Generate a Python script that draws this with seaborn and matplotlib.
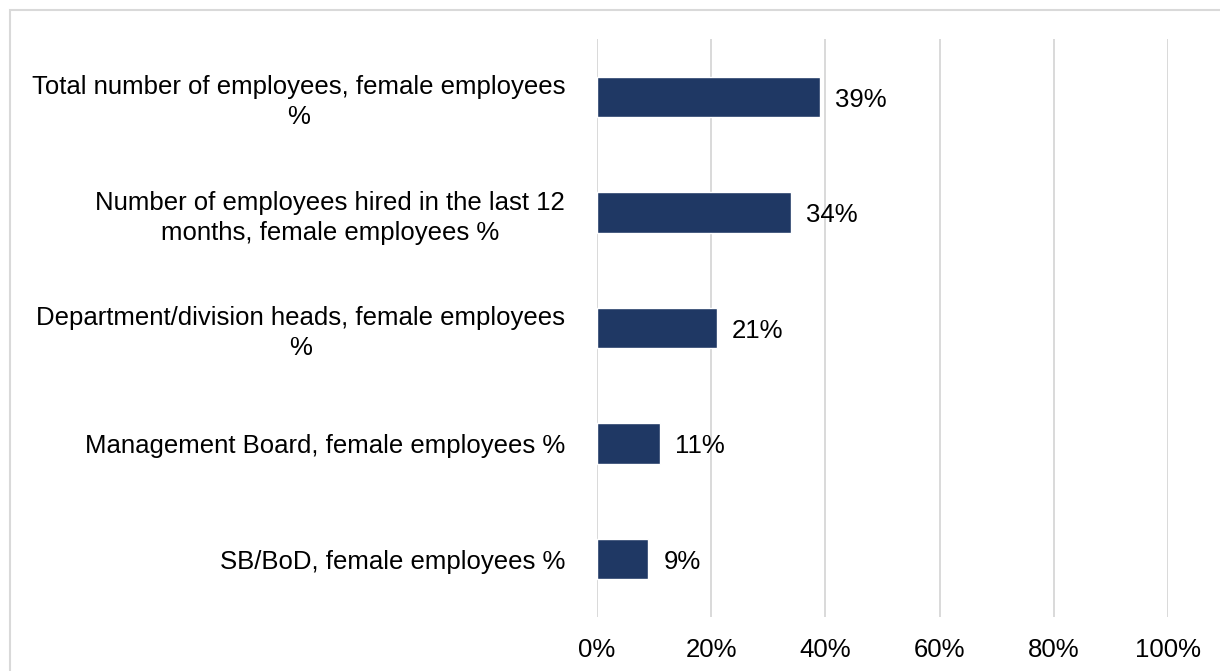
import matplotlib
matplotlib.use("Agg")
import matplotlib.pyplot as plt
from matplotlib.patches import Rectangle
import seaborn as sns
import pandas as pd

categories = [
    "Total number of employees, female employees\n%",
    "Number of employees hired in the last 12\nmonths, female employees %",
    "Department/division heads, female employees\n%",
    "Management Board, female employees %",
    "SB/BoD, female employees %",
]
female_share = [39, 34, 21, 11, 9]
x_ticks = [0, 20, 40, 60, 80, 100]
x_tick_labels = ["0%", "20%", "40%", "60%", "80%", "100%"]

bar_color = "#1F3864"
grid_color = "#d9d9d9"
font_size = 18.5

sns.set_theme(style="white")
plt.rcParams["font.family"] = ["Liberation Sans", "DejaVu Sans"]

df = pd.DataFrame({"category": categories, "value": female_share})

fig = plt.figure(figsize=(12.2, 6.71), dpi=100)
ax = fig.add_axes([597 / 1220, 1 - 617 / 671, (1168 - 597) / 1220, (617 - 39) / 671])

# outer frame of the chart area
fig.patches.append(Rectangle((10 / 1220, -0.1), 1.2, 1 - 10 / 671 + 0.1,
                             transform=fig.transFigure, fill=False,
                             edgecolor=grid_color, linewidth=1.5, zorder=0))

sns.barplot(data=df, y="category", x="value", orient="h", color=bar_color,
            saturation=1, width=0.35, ax=ax, zorder=3)

ax.set_xlim(0, 100)
ax.set_ylim(4.5, -0.5)
ax.set_xticks(x_ticks)
ax.set_xticklabels(x_tick_labels)
ax.set_xlabel("")
ax.set_ylabel("")

for v in x_ticks:
    ax.axvline(v, color=grid_color, linewidth=1.4, zorder=1)

for spine in ax.spines.values():
    spine.set_visible(False)

ax.tick_params(axis="both", length=0, labelsize=font_size, colors="black")
ax.tick_params(axis="x", pad=15)
ax.tick_params(axis="y", pad=23)
for lbl in ax.get_yticklabels():
    lbl.set_multialignment("center")
    lbl.set_linespacing(1.3)

for i, v in enumerate(female_share):
    ax.annotate(f"{v}%", xy=(v, i), xytext=(11, -2), textcoords="offset points",
                va="center", ha="left", fontsize=font_size, color="black")

fig.savefig("out.png", dpi=100)
